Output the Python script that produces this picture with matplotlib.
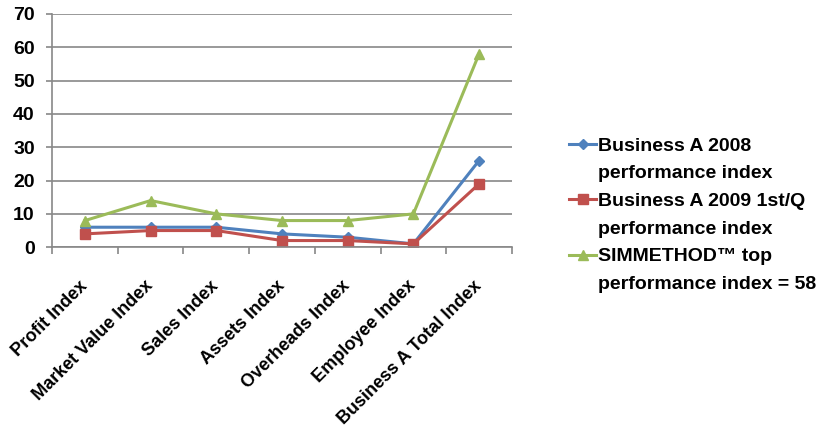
import matplotlib.pyplot as plt
import matplotlib.transforms as mtransforms
from matplotlib.lines import Line2D
import numpy as np

categories = ['Profit Index', 'Market Value Index', 'Sales Index', 'Assets Index',
              'Overheads Index', 'Employee Index', 'Business A Total Index']
business_2008 = [6, 6, 6, 4, 3, 1, 26]
business_2009_q1 = [4, 5, 5, 2, 2, 1, 19]
simmethod_top = [8, 14, 10, 8, 8, 10, 58]
series_labels = [('Business A 2008', 'performance index'),
                 ('Business A 2009 1st/Q', 'performance index'),
                 ('SIMMETHOD\u2122 top', 'performance index = 58')]

plt.rcParams['font.family'] = ['Liberation Sans', 'DejaVu Sans']
plt.rcParams['font.weight'] = 'bold'

fig = plt.figure(figsize=(8.27, 4.36), dpi=100)
ax = fig.add_axes([0.063, 0.433, 0.556, 0.535])

x = np.arange(len(categories))
l1, = ax.plot(x, business_2008, color='#4F81BD', marker='D', markersize=5, lw=2.2)
l2, = ax.plot(x, business_2009_q1, color='#C0504D', marker='s', markersize=7, lw=2.2)
l3, = ax.plot(x, simmethod_top, color='#9BBB59', marker='^', markersize=7, lw=2.2)

ax.set_xlim(-0.5, len(categories) - 0.5)
ax.set_ylim(0, 70)
ax.set_yticks(range(0, 71, 10))
ax.yaxis.grid(True, color='#888888', lw=1.2)
ax.set_axisbelow(True)

ax.set_xticks(x)
ax.set_xticklabels(categories, rotation=45, ha='right', va='center',
                   rotation_mode='anchor', fontsize=13)
# nudge rotated labels to the right like Excel does
shift = mtransforms.ScaledTranslation(10 / 100, 0, fig.dpi_scale_trans)
for lbl in ax.get_xticklabels():
    lbl.set_transform(lbl.get_transform() + shift)
ax.set_xticks(np.arange(-0.5, len(categories)), minor=True)
ax.tick_params(axis='x', which='major', length=0, pad=26)
ax.tick_params(axis='x', which='minor', length=5, color='#888888', width=1.2)
ax.tick_params(axis='y', length=4.5, color='#888888', width=1.2, labelsize=14, pad=8)

for side in ['top', 'right']:
    ax.spines[side].set_visible(False)
for side in ['left', 'bottom']:
    ax.spines[side].set_color('#888888')
    ax.spines[side].set_linewidth(1.2)

# two-line legend entries: second line gets an empty handle
blank = Line2D([], [], color='none')
handles, labels = [], []
for line, (first, second) in zip([l1, l2, l3], series_labels):
    handles += [line, blank]
    labels += [first, second]

fig.legend(handles, labels, loc='upper left', bbox_to_anchor=(0.688, 0.686), frameon=False,
           fontsize=14, handlelength=1.4, handletextpad=0.1, labelspacing=0.52,
           borderpad=0, borderaxespad=0)

fig.savefig('out.png', dpi=100)
